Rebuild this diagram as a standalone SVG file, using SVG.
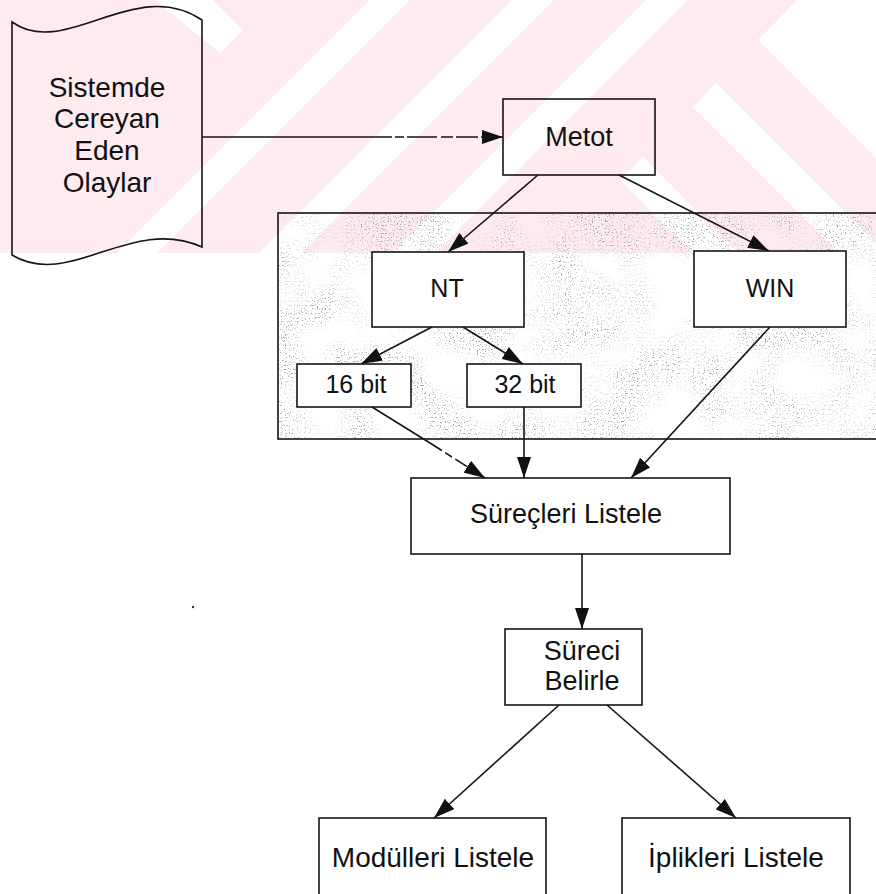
<svg xmlns="http://www.w3.org/2000/svg" width="876" height="894" viewBox="0 0 876 894">
  <defs>
    <style>
      .box { fill: none; stroke: #151515; stroke-width: 1.6; }
      .inner { fill: #ffffff; }
      .lbl { font-family: "Liberation Sans", Arial, sans-serif; fill: #111; text-anchor: middle; }
      .edge { fill: none; stroke: #151515; stroke-width: 1.6; }
      .wm { fill: #ffffff; }
    </style>
    <marker id="arrow" markerUnits="userSpaceOnUse" markerWidth="21" markerHeight="14" refX="21" refY="7" orient="auto">
      <path d="M0,0 L21,7 L0,14 Z" fill="#111"/>
    </marker>
    <clipPath id="wmClip">
      <rect x="0" y="0" width="876" height="253"/>
    </clipPath>
    <!-- sparse grey grain for the shaded panel -->
    <filter id="grain" filterUnits="userSpaceOnUse" x="278" y="213" width="600" height="226">
      <feTurbulence type="fractalNoise" baseFrequency="0.75" numOctaves="1" seed="11" result="fine"/>
      <feColorMatrix in="fine" type="matrix"
        values="0 0 0 0 0.38
                0 0 0 0 0.38
                0 0 0 0 0.38
                -9 0 0 0 3.7" result="dots"/>
      <feTurbulence type="fractalNoise" baseFrequency="0.02" numOctaves="2" seed="8" result="coarse"/>
      <feColorMatrix in="coarse" type="matrix"
        values="0 0 0 0 0
                0 0 0 0 0
                0 0 0 0 0
                3 0 0 0 -0.95" result="mask"/>
      <feComposite in="dots" in2="mask" operator="in"/>
    </filter>
  </defs>

  <rect x="0" y="0" width="876" height="894" fill="#ffffff"/>

  <!-- background watermark band -->
  <g id="watermark" clip-path="url(#wmClip)">
    <rect x="0" y="0" width="876" height="253" fill="#fdebef"/>
    <polygon class="wm" points="155,0 213,0 243,30 220,53"/>
    <polygon class="wm" points="370,0 410,0 157,253 117,253"/>
    <polygon class="wm" points="512,0 554,0 301,253 259,253"/>
    <polygon class="wm" points="646,0 688,0 435,253 393,253"/>
    <polygon class="wm" points="797,0 876,0 876,158 758,40"/>
    <polygon class="wm" points="716,83 876,243 876,253 839,253 693,107"/>
    <polygon class="wm" points="643,157 739,253 693,253 620,180"/>
  </g>

  <!-- shaded panel grouping NT / WIN -->
  <g id="panel">
    <rect x="278" y="213" width="600" height="226" fill="#000" filter="url(#grain)"/>
    <rect class="box" x="278" y="213" width="610" height="226"/>
  </g>

  <g id="connectors">
    <line class="edge" x1="202" y1="137" x2="370" y2="137"/>
    <line class="edge" x1="370" y1="137" x2="503" y2="137" stroke-dasharray="22 3 9 3 30 4 12 3" marker-end="url(#arrow)"/>
    <line class="edge" x1="538" y1="175" x2="448" y2="252" marker-end="url(#arrow)"/>
    <line class="edge" x1="619" y1="175" x2="769" y2="251" marker-end="url(#arrow)"/>
    <line class="edge" x1="432" y1="327" x2="361" y2="364" marker-end="url(#arrow)"/>
    <line class="edge" x1="463" y1="327" x2="523" y2="364" marker-end="url(#arrow)"/>
    <line class="edge" x1="372" y1="407" x2="430" y2="443"/>
    <line class="edge" x1="430" y1="443" x2="485" y2="478" stroke-dasharray="14 4 8 4" marker-end="url(#arrow)"/>
    <line class="edge" x1="524" y1="407" x2="524" y2="478" marker-end="url(#arrow)"/>
    <line class="edge" x1="770" y1="327" x2="631" y2="478" marker-end="url(#arrow)"/>
    <line class="edge" x1="582" y1="554" x2="582" y2="629" marker-end="url(#arrow)"/>
    <line class="edge" x1="559" y1="705" x2="434" y2="818" marker-end="url(#arrow)"/>
    <line class="edge" x1="607" y1="705" x2="736" y2="818" marker-end="url(#arrow)"/>
  </g>

  <g id="node-events">
    <path class="box" d="M12,22 C65,60 135,-25 202,20 L202,247 C130,215 70,290 12,255 Z"/>
    <text class="lbl" font-size="28" x="107" y="97">Sistemde</text>
    <text class="lbl" font-size="28" x="107" y="128">Cereyan</text>
    <text class="lbl" font-size="28" x="107" y="160">Eden</text>
    <text class="lbl" font-size="28" x="107" y="192">Olaylar</text>
  </g>

  <g id="node-metot">
    <rect class="box" x="503" y="99" width="152" height="76"/>
    <text class="lbl" font-size="27" x="579" y="146">Metot</text>
  </g>

  <g id="node-nt">
    <rect class="box inner" x="372" y="252" width="152" height="75"/>
    <text class="lbl" font-size="25" x="447" y="297">NT</text>
  </g>

  <g id="node-win">
    <rect class="box inner" x="694" y="251" width="152" height="76"/>
    <text class="lbl" font-size="25" x="770" y="297">WIN</text>
  </g>

  <g id="node-16bit">
    <rect class="box inner" x="297" y="364" width="114" height="43"/>
    <text class="lbl" font-size="25" x="356" y="393">16 bit</text>
  </g>

  <g id="node-32bit">
    <rect class="box inner" x="467" y="364" width="114" height="43"/>
    <text class="lbl" font-size="25" x="525" y="393">32 bit</text>
  </g>

  <g id="node-surecleri">
    <rect class="box" x="411" y="478" width="319" height="76"/>
    <text class="lbl" font-size="27" x="566" y="523">Süreçleri Listele</text>
  </g>

  <g id="node-sureci">
    <rect class="box" x="505" y="629" width="137" height="76"/>
    <text class="lbl" font-size="27" x="582" y="660">Süreci</text>
    <text class="lbl" font-size="27" x="582" y="690">Belirle</text>
  </g>

  <g id="node-moduller">
    <rect class="box" x="319" y="818" width="227" height="90"/>
    <text class="lbl" font-size="28" x="433" y="867">Modülleri Listele</text>
  </g>

  <g id="node-iplikler">
    <rect class="box" x="622" y="818" width="228" height="90"/>
    <text class="lbl" font-size="28" x="736" y="867">İplikleri Listele</text>
  </g>

  <circle cx="193" cy="607" r="1.2" fill="#333"/>
</svg>
